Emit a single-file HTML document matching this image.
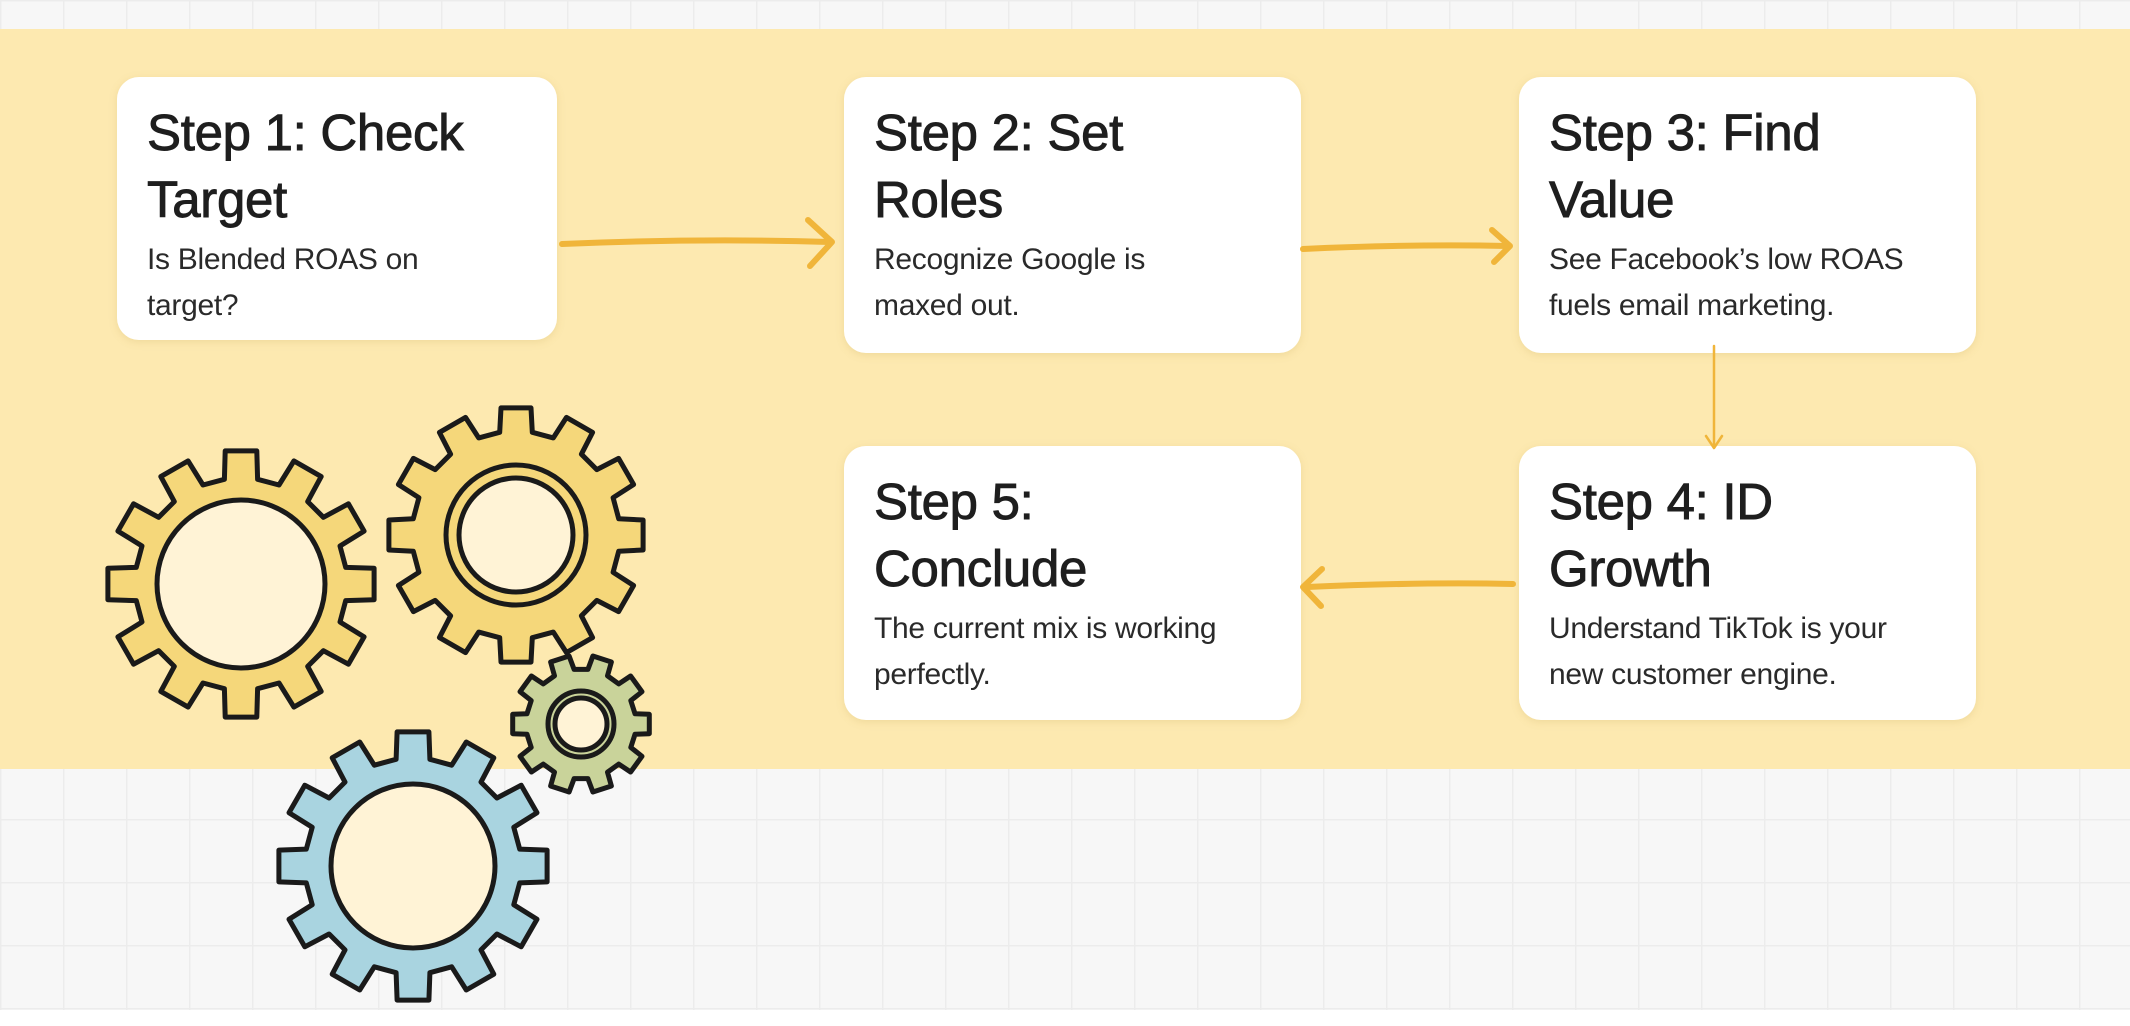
<!DOCTYPE html>
<html><head><meta charset="utf-8"><style>
html,body{margin:0;padding:0;}
body{width:2130px;height:1026px;position:relative;overflow:hidden;background:#f7f7f7;
background-image:linear-gradient(#ececec 1.5px,transparent 1.5px),linear-gradient(90deg,#ececec 1.5px,transparent 1.5px);background-size:63px 63px;}
.band{position:absolute;left:0;top:29px;width:2130px;height:740px;background:#fde9b0;}
.bottom{position:absolute;left:0;top:1010px;width:2130px;height:16px;background:#fff;}
.box{position:absolute;background:#fff;border-radius:22px;box-shadow:0 2px 8px rgba(200,170,90,0.25);font-family:"Liberation Sans",sans-serif;color:#1e1e1e;box-sizing:border-box;padding:22px 30px;}
.box h2{margin:0;font-size:51px;line-height:67px;font-weight:normal;-webkit-text-stroke:0.9px #1e1e1e;letter-spacing:-0.3px;}
.box p{margin:4px 0 0;font-size:30px;line-height:46px;color:#2a2a2a;letter-spacing:-0.3px;}
svg{position:absolute;left:0;top:0;}
</style></head><body>
<div class="band"></div>
<div class="bottom"></div>
<div class="box" style="left:117px;top:77px;width:440px;height:263px;"><h2>Step 1: Check<br>Target</h2><p>Is Blended ROAS on<br>target?</p></div>
<div class="box" style="left:844px;top:77px;width:457px;height:276px;"><h2>Step 2: Set<br>Roles</h2><p>Recognize Google is<br>maxed out.</p></div>
<div class="box" style="left:1519px;top:77px;width:457px;height:276px;"><h2>Step 3: Find<br>Value</h2><p>See Facebook’s low ROAS<br>fuels email marketing.</p></div>
<div class="box" style="left:844px;top:446px;width:457px;height:274px;"><h2>Step 5:<br>Conclude</h2><p>The current mix is working<br>perfectly.</p></div>
<div class="box" style="left:1519px;top:446px;width:457px;height:274px;"><h2>Step 4: ID<br>Growth</h2><p>Understand TikTok is your<br>new customer engine.</p></div>
<svg width="2130" height="1026" id="s">
<g stroke="#f0b53a" stroke-width="6" fill="none" stroke-linecap="round" stroke-linejoin="round">
<path d="M562 244 Q700 238 830 242"/><path d="M808 220 L832 242 L810 266"/>
<path d="M1303 249 Q1410 244 1508 246"/><path d="M1492 230 L1510 246 L1494 262"/>
<path d="M1307 587 Q1420 582 1513 584"/><path d="M1322 569 L1303 587 L1321 606"/>
<path d="M1714 346 L1714 446" stroke-width="2.5"/><path d="M1706 436 L1714 448 L1722 436" stroke-width="2.5"/>
</g>
<g id="gears"></g>
</svg>
<script>
function gear(cx,cy,ro,ri,n,fill,holes){
 var pts=[];for(var i=0;i<n;i++){var a=i*2*Math.PI/n;var w=Math.PI/n;
 var seq=[[ri,a-w*0.6],[ro,a-w*0.45],[ro,a+w*0.45],[ri,a+w*0.6]];
 seq.forEach(function(p){pts.push((cx+p[0]*Math.cos(p[1])).toFixed(1)+','+(cy+p[0]*Math.sin(p[1])).toFixed(1));});}
 var s='<polygon points="'+pts.join(' ')+'" fill="'+fill+'" stroke="#1a1a1a" stroke-width="5" stroke-linejoin="round"/>';
 holes.forEach(function(h,k){s+='<circle cx="'+cx+'" cy="'+cy+'" r="'+h+'" fill="'+(k==holes.length-1?'#fff3d6':'none')+'" stroke="#1a1a1a" stroke-width="5"/>';});
 return s;}
var g='';
g+=gear(241,584,134,106,12,'#f5d77a',[84]);
g+=gear(516,535,128,104,12,'#f5d77a',[70,57]);
g+=gear(581,724,69,55,10,'#c9d39a',[33,26]);
g+=gear(413,866,135,108,12,'#a9d4e0',[82]);
document.getElementById('gears').innerHTML=g;
</script>
</body></html>
